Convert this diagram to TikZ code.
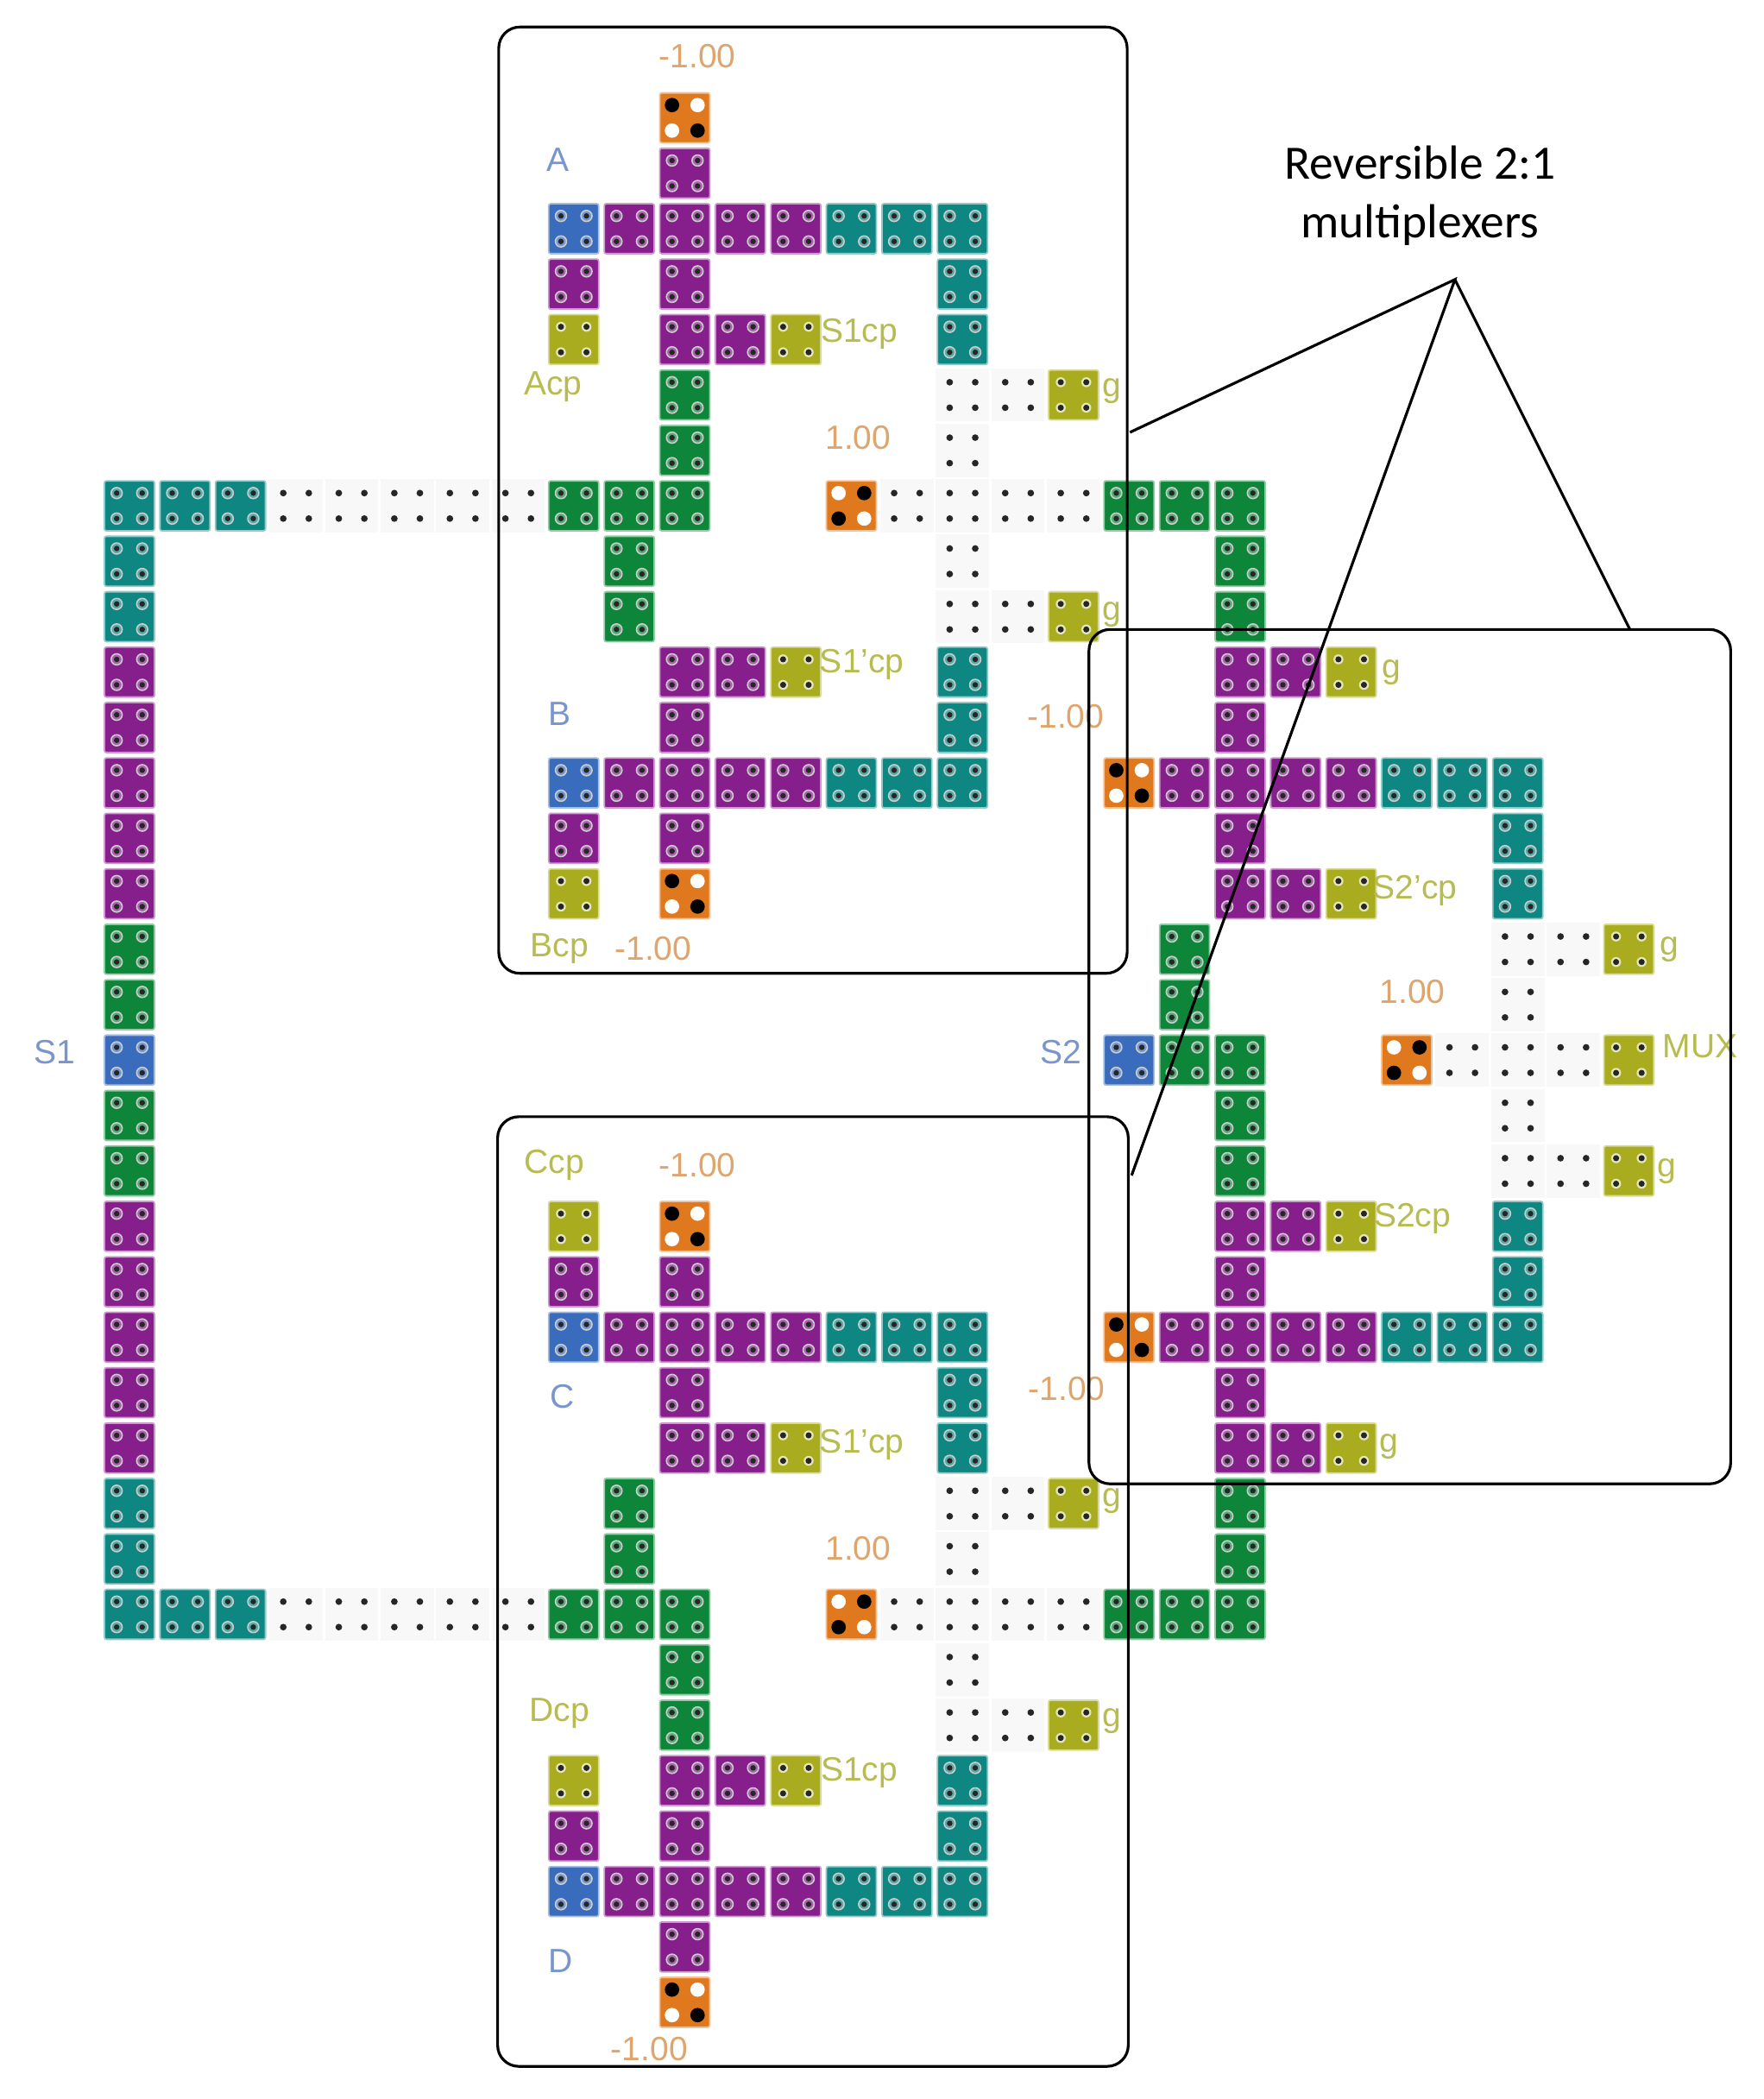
\documentclass[tikz,border=0pt]{standalone}
\usepackage{fontspec}
\setmainfont{Liberation Sans}
\newfontfamily\notefont{Carlito}
\usetikzlibrary{math}
\definecolor{qpurple}{RGB}{134,30,140}
\definecolor{qteal}{RGB}{14,134,130}
\definecolor{qgreen}{RGB}{14,134,58}
\definecolor{qblue}{RGB}{58,108,190}
\definecolor{qyellow}{RGB}{168,172,30}
\definecolor{qorange}{RGB}{224,120,30}
\definecolor{qgap}{RGB}{248,248,248}
\definecolor{lblue}{RGB}{120,150,205}
\definecolor{lyellow}{RGB}{182,188,80}
\definecolor{lorange}{RGB}{222,165,110}
\tikzset{
  cellbox/.style={rounded corners=1pt, line width=.8pt},
  ring/.style={draw=white!80!black, line width=.7pt},
  hole/.style={fill=black!85},
  qlabel/.style={font=\fontsize{17.3}{20}\selectfont, inner sep=0pt},
  muxbox/.style={draw=black, line width=1.4pt, rounded corners=.38cm},
  leader/.style={draw=black, line width=1.4pt}
}
% one cell, four rings
\newcommand{\qcell}[3]{
  \filldraw[cellbox, fill=#3, draw=#3!45] (#1-.45,#2-.45) rectangle (#1+.45,#2+.45);
  \foreach \sx in {-1,1}{
    \foreach \sy in {-1,1}{
      \draw[ring, fill=#3!70!white] (#1+\sx*.23,#2+\sy*.23) circle[radius=.1];
      \fill[hole] (#1+\sx*.23,#2+\sy*.23) circle[radius=.05];
    }
  }
}
% fixed cell, dots only
\newcommand{\qfix}[2]{
  \filldraw[cellbox, fill=qyellow, draw=qyellow!45] (#1-.45,#2-.45) rectangle (#1+.45,#2+.45);
  \foreach \sx in {-1,1}{
    \foreach \sy in {-1,1}{
      \fill[white!70!qyellow] (#1+\sx*.23,#2+\sy*.23) circle[radius=.09];
      \fill[hole] (#1+\sx*.23,#2+\sy*.23) circle[radius=.055];
    }
  }
}
% crossover gap
\newcommand{\qdots}[2]{
  \fill[qgap] (#1-.48,#2-.48) rectangle (#1+.48,#2+.48);
  \foreach \sx in {-1,1}{
    \foreach \sy in {-1,1}{
      \fill[hole] (#1+\sx*.23,#2+\sy*.23) circle[radius=.06];
    }
  }
}
% driver, #3=1 black on the falling diagonal
\newcommand{\qdrv}[3]{
  \filldraw[cellbox, fill=qorange, draw=qorange!45] (#1-.45,#2-.45) rectangle (#1+.45,#2+.45);
  \foreach \sx in {-1,1}{
    \foreach \sy in {-1,1}{
      \pgfmathsetmacro{\tone}{(\sx*\sy*#3>0) ? 0 : 100}
      \fill[white!\tone!black] (#1+\sx*.23,#2+\sy*.23) circle[radius=.13];
    }
  }
}

\begin{document}
\begin{tikzpicture}[x=1cm,y=-1cm]

\useasboundingbox (-2.338,-2.128) rectangle (29.52,35.78);

\begin{scope}[x=1.003cm,y=-1.001cm]
\foreach \c/\r in {3/7,4/7,5/7,6/7,7/7,14/7,15/7,16/7,17/7,15/5,16/5,15/6,15/8,15/9,16/9,
  24/17,25/17,26/17,25/15,26/15,25/16,25/18,25/19,26/19,
  3/27,4/27,5/27,6/27,7/27,14/27,15/27,16/27,17/27,15/25,16/25,15/26,15/28,15/29,16/29}{
\qdots{\c}{\r}
}

\foreach \c/\r in {0/10,0/11,0/12,0/13,0/14,0/20,0/21,0/22,0/23,0/24,
  10/1,9/2,10/2,11/2,12/2,8/3,10/3,10/4,11/4,
  10/10,11/10,10/11,9/12,10/12,11/12,12/12,8/13,10/13,
  20/10,21/10,20/11,19/12,20/12,21/12,22/12,20/13,20/14,21/14,
  20/20,21/20,20/21,19/22,20/22,21/22,22/22,20/23,20/24,21/24,
  8/21,10/21,9/22,10/22,11/22,12/22,10/23,10/24,11/24,
  10/30,11/30,8/31,10/31,9/32,10/32,11/32,12/32,10/33}{
\qcell{\c}{\r}{qpurple}
}

\foreach \c/\r in {0/7,1/7,2/7,0/8,0/9,0/25,0/26,0/27,1/27,2/27,
  13/2,14/2,15/2,15/3,15/4,15/10,15/11,13/12,14/12,15/12,
  23/12,24/12,25/12,25/13,25/14,25/20,25/21,23/22,24/22,25/22,
  13/22,14/22,15/22,15/23,15/24,15/30,15/31,13/32,14/32,15/32}{
\qcell{\c}{\r}{qteal}
}

\foreach \c/\r in {0/15,0/16,0/18,0/19,10/5,10/6,8/7,9/7,10/7,9/8,9/9,
  18/7,19/7,20/7,20/8,20/9,19/15,19/16,19/17,20/17,20/18,20/19,
  9/25,9/26,8/27,9/27,10/27,10/28,10/29,20/25,20/26,18/27,19/27,20/27}{
\qcell{\c}{\r}{qgreen}
}

\foreach \c/\r in {0/17,8/2,8/12,18/17,8/22,8/32}{
\qcell{\c}{\r}{qblue}
}

\foreach \c/\r in {8/4,12/4,17/5,17/9,12/10,22/10,8/14,22/14,27/15,27/17,27/19,
  8/20,22/20,12/24,22/24,17/25,17/29,8/30,12/30}{
\qfix{\c}{\r}
}

\foreach \c/\r/\k in {10/0/1,13/7/-1,10/14/1,18/12/1,23/17/-1,10/20/1,18/22/1,13/27/-1,10/34/1}{
\qdrv{\c}{\r}{\k}
}
\end{scope}

% input and output names
\node[qlabel, lblue] (lblA) at (7.74,.75) {A};
\node[qlabel, lblue] (lblB) at (7.77,10.76) {B};
\node[qlabel, lblue] (lblC) at (7.82,23.10) {C};
\node[qlabel, lblue] (lblD) at (7.79,33.28) {D};
\node[qlabel, lblue] (lblSa) at (-1.35,16.88) {S1};
\node[qlabel, lblue] (lblSb) at (16.83,16.88) {S2};
\node[qlabel, lyellow] (lblAcp) at (7.65,4.86) {Acp};
\node[qlabel, lyellow] (lblBcp) at (7.77,15.00) {Bcp};
\node[qlabel, lyellow] (lblCcp) at (7.67,18.91) {Ccp};
\node[qlabel, lyellow] (lblDcp) at (7.77,28.81) {Dcp};
\node[qlabel, lyellow] (lblSaa) at (13.18,3.90) {S1cp};
\node[qlabel, lyellow] (lblSab) at (13.23,9.87) {S1'cp};
\node[qlabel, lyellow] (lblSac) at (13.23,23.97) {S1'cp};
\node[qlabel, lyellow] (lblSad) at (13.18,29.89) {S1cp};
\node[qlabel, lyellow] (lblSba) at (23.22,13.96) {S2'cp};
\node[qlabel, lyellow] (lblSbb) at (23.17,19.88) {S2cp};
\node[qlabel, lyellow] (lblMux) at (28.37,16.76) {MUX};
\foreach \n/\c/\r in {ga/17.75/4.93,gb/17.75/8.97,gc/22.80/10.01,gd/27.81/15.02,
  ge/27.76/19.03,gf/22.75/23.99,gg/17.75/24.98,gh/17.75/28.95}{
\node[qlabel, lyellow] (\n) at (\c,\r) {g};
}
\foreach \n/\c/\r/\v in {pa/10.26/-1.11/-1.00,pb/13.16/5.78/1.00,pc/16.91/10.81/-1.00,
  pd/9.46/15.00/-1.00,pe/23.17/15.79/1.00,pf/10.26/18.91/-1.00,pg/16.93/22.95/-1.00,
  ph/13.16/25.83/1.00,pi/9.39/34.87/-1.00}{
\node[qlabel, lorange] (\n) at (\c,\r) {\v};
}

% the three boxes
\draw[muxbox] (6.67,-1.64) rectangle (18.02,15.45);
\draw[muxbox] (6.65,18.04) rectangle (18.04,35.19);
\draw[muxbox] (17.33,9.24) rectangle (28.92,24.67);

\coordinate (apex) at (23.94,2.92);
\coordinate (tipa) at (18.07,5.68);
\coordinate (tipb) at (18.10,19.10);
\coordinate (tipc) at (27.10,9.24);
\draw[leader] (tipa) -- (apex) -- (tipb);
\draw[leader] (apex) -- (tipc);

\node[font=\notefont\fontsize{24.6}{30}\selectfont, align=center, inner sep=0pt] (note) at (23.31,1.41) {Reversible 2:1\\multiplexers};

\end{tikzpicture}
\end{document}
